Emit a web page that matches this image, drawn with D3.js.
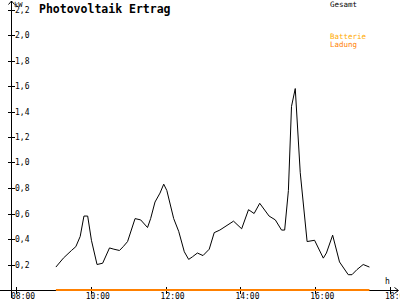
<!DOCTYPE html>
<html><head><meta charset="utf-8">
<script src="https://cdn.jsdelivr.net/npm/d3@7"></script>
<style>html,body{margin:0;padding:0;background:#fff;}svg{display:block;}</style>
</head><body>
<script>
const times = ["09:04","09:16","09:29","09:36","09:43","09:49","09:55","10:01","10:10","10:19","10:30","10:37","10:46","10:52","10:59","11:11","11:20","11:31","11:36","11:43","11:51","11:57","12:02","12:13","12:21","12:30","12:37","12:43","12:51","13:00","13:10","13:18","13:27","13:49","14:02","14:13","14:22","14:31","14:46","14:56","15:06","15:11","15:17","15:22","15:28","15:36","15:47","15:59","16:13","16:18","16:28","16:39","16:53","16:59","17:07","17:17","17:27"];
const gesamt = [0.18,0.25,0.31,0.34,0.42,0.58,0.58,0.39,0.20,0.21,0.33,0.32,0.31,0.34,0.38,0.56,0.55,0.49,0.56,0.69,0.76,0.83,0.78,0.56,0.46,0.30,0.24,0.26,0.29,0.27,0.32,0.45,0.47,0.54,0.48,0.63,0.60,0.68,0.58,0.55,0.47,0.47,0.78,1.44,1.58,0.92,0.38,0.39,0.25,0.29,0.43,0.22,0.12,0.12,0.16,0.20,0.18];
const ladung = times.map(() => 0);
const yTicks = [0.2,0.4,0.6,0.8,1.0,1.2,1.4,1.6,1.8,2.0,2.2];
const xTickLabels = ["08:00","10:00","12:00","14:00","16:00","18:00"];
const legendLabels = ["Gesamt","Batterie","Ladung"];

const toH = s => { const [h,m] = s.split(":").map(Number); return h + m/60; };
const W = 400, H = 300;
const svg = d3.select("body").append("svg").attr("width", W).attr("height", H);
const x = d3.scaleLinear().domain([8, 18]).range([16, 390]);
const y = d3.scaleLinear().domain([0, 2.2]).range([290, 9.5]);
const font = "'DejaVu Sans Mono', monospace";

// Y axis
svg.append("line").attr("x1", 11.5).attr("x2", 11.5).attr("y1", 1).attr("y2", 298).attr("stroke", "#000");
svg.append("path").attr("d", "M8.5,4.5 L11.5,1 L14.5,4.5").attr("fill", "none").attr("stroke", "#000");
svg.selectAll(".yt").data(yTicks).enter().append("line")
  .attr("x1", 8).attr("x2", 15).attr("y1", d => Math.round(y(d)) + 0.5).attr("y2", d => Math.round(y(d)) + 0.5)
  .attr("stroke", "#000");
svg.selectAll(".yl").data(yTicks).enter().append("text")
  .attr("x", 15).attr("y", d => Math.round(y(d)) + 3)
  .attr("font-family", font).attr("font-size", 8).attr("fill", "#000")
  .text(d => d.toFixed(1).replace(".", ","));
svg.append("text").attr("x", 14).attr("y", 7).attr("font-family", font).attr("font-size", 7).text("kW");

// X axis
svg.append("line").attr("x1", 0).attr("x2", 398).attr("y1", 290.5).attr("y2", 290.5).attr("stroke", "#000");
svg.append("path").attr("d", "M394.5,287.5 L398.5,290.5 L394.5,293.5").attr("fill", "none").attr("stroke", "#000");
svg.selectAll(".xt").data(xTickLabels).enter().append("line")
  .attr("x1", d => Math.round(x(toH(d))) + 0.5).attr("x2", d => Math.round(x(toH(d))) + 0.5)
  .attr("y1", 287).attr("y2", 294).attr("stroke", "#000");
svg.selectAll(".xl").data(xTickLabels).enter().append("text")
  .attr("x", d => x(toH(d)) - 5).attr("y", 299)
  .attr("font-family", font).attr("font-size", 8).attr("fill", "#000")
  .text(d => d);
svg.append("text").attr("x", 385).attr("y", 284).attr("font-family", font).attr("font-size", 8).text("h");

// Title
svg.append("text").attr("x", 39).attr("y", 13).attr("font-family", font).attr("font-weight", "bold")
  .attr("font-size", 11.5).text("Photovoltaik Ertrag");

// Legend
svg.append("text").attr("x", 330).attr("y", 7).attr("font-family", font).attr("font-size", 7.5).attr("fill", "#000").text(legendLabels[0]);
svg.append("text").attr("x", 330).attr("y", 39).attr("font-family", font).attr("font-size", 7.5).attr("fill", "#ffaa00").text(legendLabels[1]);
svg.append("text").attr("x", 330).attr("y", 47).attr("font-family", font).attr("font-size", 7.5).attr("fill", "#ff8000").text(legendLabels[2]);

// Ladung line
const line = d3.line().x((d, i) => x(toH(times[i]))).y(d => y(d));
svg.append("path").datum(ladung).attr("d", line).attr("fill", "none").attr("stroke", "#ff8000").attr("stroke-width", 2)
  .attr("transform", "translate(0,0)");
// Gesamt line
svg.append("path").datum(gesamt).attr("d", line).attr("fill", "none").attr("stroke", "#000").attr("stroke-width", 1);
</script>
</body></html>
